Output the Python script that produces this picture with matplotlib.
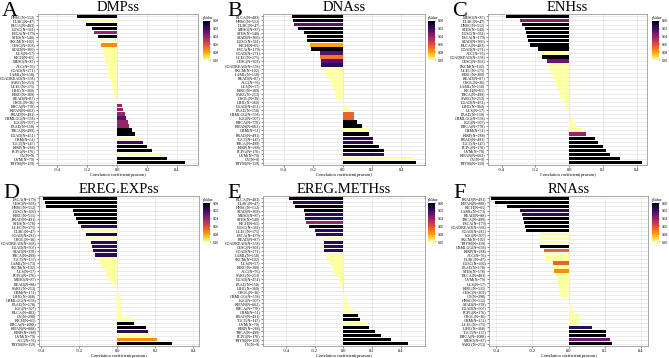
import matplotlib
matplotlib.use("Agg")
import matplotlib.pyplot as plt
import matplotlib.colors as mcolors
import numpy as np

# ---- data ----
dmp_labels = ["HNSC(N=512)", "DLBC(N=47)", "BLCA(N=403)", "LUSC(N=361)", "ESCA(N=179)", "STES(N=540)",
              "SKCM(N=102)", "CESC(N=303)", "STAD(N=360)", "UCS(N=57)", "KICH(N=65)", "MESO(N=87)",
              "ACC(N=76)", "COAD(N=271)", "LAML(N=150)", "COADREAD(N=358)", "SARC(N=253)", "UCEC(N=175)",
              "LIHC(N=360)", "KIRC(N=309)", "READ(N=87)", "CHOL(N=36)", "BRCA(N=778)", "KIPAN(N=662)",
              "PRAD(N=491)", "GBMLGG(N=558)", "LGG(N=507)", "PAAD(N=150)", "THCA(N=499)", "LUAD(N=451)",
              "GBM(N=51)", "TGCT(N=147)", "KIRP(N=288)", "PCPG(N=176)", "OV(N=9)", "UVM(N=79)", "THYM(N=119)"]
dmp_r = [-0.27, -0.23, -0.21, -0.17, -0.155, -0.13, -0.115, -0.11, -0.093, -0.09, -0.085, -0.08,
         -0.07, -0.065, -0.058, -0.053, -0.043, -0.035, -0.03, -0.02, -0.015, 0.005, 0.03, 0.04,
         0.05, 0.06, 0.07, 0.08, 0.10, 0.12, 0.14, 0.17, 0.20, 0.23, 0.30, 0.33, 0.45]
dmp_p = [0.0, 0.2, 0.0, 0.0, 0.04, 0.0, 0.2, 0.075, 0.2, 0.2, 0.2, 0.2,
         0.2, 0.2, 0.2, 0.2, 0.2, 0.2, 0.2, 0.2, 0.2, 0.2, 0.04, 0.04,
         0.04, 0.025, 0.04, 0.04, 0.0, 0.0, 0.2, 0.02, 0.0, 0.0, 0.2, 0.0, 0.0]

dna_labels = ["BLCA(N=403)", "HNSC(N=512)", "DLBC(N=47)", "MESO(N=87)", "STES(N=540)", "STAD(N=360)",
              "LUSC(N=361)", "KICH(N=65)", "ESCA(N=179)", "COAD(N=271)", "UCEC(N=175)", "CESC(N=303)",
              "COADREAD(N=358)", "SKCM(N=102)", "LAML(N=150)", "READ(N=87)", "ACC(N=76)", "UCS(N=57)",
              "KIRC(N=309)", "SARC(N=253)", "CHOL(N=36)", "LIHC(N=360)", "LUAD(N=451)", "PAAD(N=150)",
              "GBMLGG(N=558)", "LGG(N=507)", "BRCA(N=778)", "KIPAN(N=662)", "GBM(N=51)", "PRAD(N=491)",
              "TGCT(N=147)", "THCA(N=499)", "KIRP(N=288)", "PCPG(N=176)", "UVM(N=79)", "OV(N=9)", "THYM(N=119)"]
dna_r = [-0.34, -0.333, -0.327, -0.30, -0.26, -0.243, -0.24, -0.224, -0.213, -0.15, -0.15, -0.145,
         -0.145, -0.127, -0.116, -0.107, -0.088, -0.07, -0.061, -0.052, -0.045, 0.005, 0.02, 0.044,
         0.075, 0.08, 0.097, 0.13, 0.177, 0.177, 0.21, 0.21, 0.247, 0.28, 0.28, 0.48, 0.50]
dna_p = [0.0, 0.0, 0.025, 0.0, 0.0, 0.0, 0.0, 0.08, 0.0, 0.025, 0.07, 0.025,
         0.015, 0.2, 0.2, 0.2, 0.2, 0.2, 0.2, 0.2, 0.2, 0.2, 0.2, 0.2,
         0.065, 0.065, 0.0, 0.0, 0.2, 0.0, 0.015, 0.015, 0.0, 0.0, 0.015, 0.2, 0.0]

enh_labels = ["MESO(N=87)", "DLBC(N=47)", "HNSC(N=512)", "STES(N=540)", "LUSC(N=361)", "ESCA(N=179)",
              "STAD(N=360)", "BLCA(N=403)", "COAD(N=271)", "ACC(N=76)", "COADREAD(N=358)", "CESC(N=303)",
              "SKCM(N=102)", "UCEC(N=175)", "KIRC(N=309)", "READ(N=87)", "CHOL(N=36)", "LAML(N=150)",
              "KICH(N=65)", "THCA(N=499)", "SARC(N=253)", "LUAD(N=451)", "LIHC(N=360)", "UCS(N=57)",
              "PAAD(N=150)", "GBMLGG(N=558)", "LGG(N=507)", "BRCA(N=778)", "GBM(N=51)", "KIRP(N=288)",
              "PRAD(N=491)", "TGCT(N=147)", "PCPG(N=176)", "UVM(N=79)", "KIPAN(N=662)", "OV(N=9)", "THYM(N=119)"]
enh_r = [-0.372, -0.29, -0.278, -0.259, -0.253, -0.249, -0.245, -0.23, -0.184, -0.165, -0.16, -0.131,
         -0.128, -0.112, -0.102, -0.092, -0.086, -0.076, -0.069, -0.057, -0.053, -0.03, -0.02, -0.01,
         0.0, 0.01, 0.02, 0.04, 0.08, 0.10, 0.15, 0.17, 0.20, 0.22, 0.24, 0.30, 0.43]
enh_p = [0.0, 0.035, 0.0, 0.0, 0.0, 0.0, 0.0, 0.0, 0.0, 0.2, 0.0, 0.03,
         0.2, 0.2, 0.2, 0.2, 0.2, 0.2, 0.2, 0.2, 0.2, 0.2, 0.2, 0.2,
         0.2, 0.2, 0.2, 0.2, 0.2, 0.04, 0.0, 0.0, 0.0, 0.0, 0.0, 0.0, 0.0]

exp_labels = ["ESCA(N=179)", "CESC(N=303)", "HNSC(N=512)", "LUSC(N=492)", "KIRC(N=515)", "PRAD(N=491)",
              "STES(N=578)", "UCEC(N=175)", "DLBC(N=47)", "COAD(N=282)", "CHOL(N=36)", "COADREAD(N=368)",
              "LUAD(N=507)", "STAD(N=378)", "THCA(N=499)", "TGCT(N=137)", "LAML(N=173)", "SKCM(N=102)",
              "UCS(N=57)", "PCPG(N=176)", "MESO(N=87)", "READ(N=88)", "SARC(N=253)", "GBM(N=152)",
              "LIHC(N=368)", "GBMLGG(N=658)", "PAAD(N=178)", "LGG(N=507)", "BLCA(N=403)", "OV(N=298)",
              "KICH(N=65)", "BRCA(N=1088)", "KIPAN(N=888)", "KIRP(N=288)", "UVM(N=79)", "ACC(N=76)", "THYM(N=119)"]
exp_r = [-0.39, -0.38, -0.374, -0.233, -0.226, -0.216, -0.204, -0.19, -0.19, -0.165, -0.156, -0.138,
         -0.133, -0.125, -0.116, -0.095, -0.089, -0.08, -0.063, -0.058, -0.04, -0.028, -0.002, 0.007,
         0.013, 0.018, 0.022, 0.022, 0.025, 0.028, 0.082, 0.09, 0.15, 0.16, 0.174, 0.209, 0.29]
exp_p = [0.0, 0.0, 0.0, 0.0, 0.0, 0.0, 0.0, 0.015, 0.2, 0.01, 0.2, 0.015,
         0.015, 0.015, 0.015, 0.2, 0.2, 0.2, 0.2, 0.2, 0.2, 0.2, 0.2, 0.2,
         0.2, 0.2, 0.2, 0.2, 0.2, 0.2, 0.2, 0.0, 0.0, 0.015, 0.2, 0.075, 0.0]

meth_labels = ["BLCA(N=403)", "DLBC(N=47)", "HNSC(N=512)", "STAD(N=369)", "MESO(N=87)", "STES(N=540)",
               "KICH(N=65)", "LUSC(N=361)", "UCEC(N=175)", "ESCA(N=179)", "READ(N=87)", "COADREAD(N=358)",
               "CESC(N=303)", "COAD(N=271)", "LAML(N=150)", "SKCM(N=102)", "UCS(N=57)", "KIRC(N=309)",
               "ACC(N=76)", "SARC(N=253)", "LUAD(N=451)", "PAAD(N=150)", "LIHC(N=360)", "CHOL(N=36)",
               "GBMLGG(N=558)", "LGG(N=507)", "KIPAN(N=662)", "BRCA(N=778)", "GBM(N=51)", "PRAD(N=491)",
               "TGCT(N=147)", "UVM(N=79)", "KIRP(N=288)", "THCA(N=499)", "PCPG(N=176)", "THYM(N=119)", "OV(N=9)"]
meth_r = [-0.38, -0.35, -0.34, -0.277, -0.264, -0.264, -0.257, -0.24, -0.20, -0.187, -0.14, -0.135,
          -0.135, -0.135, -0.124, -0.112, -0.096, -0.082, -0.072, -0.054, -0.03, -0.02, -0.01, 0.0,
          0.01, 0.02, 0.03, 0.05, 0.08, 0.10, 0.12, 0.15, 0.18, 0.22, 0.26, 0.33, 0.45]
meth_p = [0.0, 0.015, 0.0, 0.0, 0.015, 0.015, 0.04, 0.0, 0.015, 0.015, 0.2, 0.015,
          0.015, 0.015, 0.2, 0.2, 0.2, 0.2, 0.2, 0.2, 0.2, 0.2, 0.2, 0.2,
          0.2, 0.2, 0.2, 0.2, 0.2, 0.0, 0.0, 0.2, 0.0, 0.0, 0.0, 0.0, 0.0]

rna_labels = ["PRAD(N=491)", "KIPAN(N=888)", "KICH(N=65)", "LAML(N=173)", "READ(N=88)", "THCA(N=499)",
              "ESCA(N=179)", "COADREAD(N=368)", "COAD(N=282)", "LGG(N=507)", "SKCM(N=102)", "THYM(N=119)",
              "GBMLGG(N=658)", "KIRP(N=288)", "ACC(N=76)", "DLBC(N=47)", "LUSC(N=492)", "PAAD(N=178)",
              "STES(N=578)", "BLCA(N=403)", "UVM(N=79)", "UCS(N=57)", "KIRC(N=515)", "CESC(N=303)",
              "OV(N=298)", "HNSC(N=512)", "STAD(N=378)", "LUAD(N=507)", "PCPG(N=176)", "CHOL(N=36)",
              "GBM(N=152)", "UCEC(N=175)", "LIHC(N=368)", "TGCT(N=137)", "BRCA(N=1088)", "MESO(N=87)", "SARC(N=253)"]
rna_r = [-0.43, -0.405, -0.34, -0.27, -0.26, -0.25, -0.248, -0.238, -0.233, -0.16, -0.16, -0.16,
         -0.16, -0.135, -0.13, -0.13, -0.085, -0.08, -0.08, -0.07, -0.065, -0.06, -0.055, -0.05,
         -0.045, -0.01, 0.005, 0.02, 0.03, 0.06, 0.06, 0.06, 0.13, 0.21, 0.21, 0.23, 0.24]
rna_p = [0.0, 0.0, 0.0, 0.015, 0.015, 0.0, 0.0, 0.0, 0.0, 0.2, 0.2, 0.2,
         0.0, 0.065, 0.2, 0.2, 0.065, 0.2, 0.075, 0.2, 0.2, 0.2, 0.2, 0.2,
         0.2, 0.2, 0.2, 0.2, 0.2, 0.2, 0.2, 0.2, 0.015, 0.0, 0.0, 0.03, 0.0]

titles = ["DMPss", "DNAss", "ENHss", "EREG.EXPss", "EREG.METHss", "RNAss"]
letters = ["A", "B", "C", "D", "E", "F"]
panels = [(dmp_labels, dmp_r, dmp_p), (dna_labels, dna_r, dna_p), (enh_labels, enh_r, enh_p),
          (exp_labels, exp_r, exp_p), (meth_labels, meth_r, meth_p), (rna_labels, rna_r, rna_p)]
xlims = [(-0.53, 0.54), (-0.54, 0.56), (-0.48, 0.46), (-0.41, 0.43), (-0.56, 0.57), (-0.44, 0.44)]

W, H = 669, 358
fig = plt.figure(figsize=(W / 100, H / 100), dpi=100)
plt.rcParams["font.family"] = "Liberation Serif"

cmap = plt.get_cmap("inferno")
norm = mcolors.Normalize(vmin=0, vmax=0.1, clip=True)

# axes boxes in pixels: left, top, right, bottom
boxes = [(38, 14, 198, 165), (263, 14, 425, 165), (488, 14, 647, 165),
         (39, 196, 199, 346), (263, 196, 425, 346), (489, 196, 648, 346)]
cb_x = [203, 428, 652, 203, 428, 652]

for i, (labels, r, p) in enumerate(panels):
    l, t, rr, b = boxes[i]
    ax = fig.add_axes([l / W, 1 - b / H, (rr - l) / W, (b - t) / H])
    y = np.arange(len(labels))
    ax.barh(y, r, height=0.82, color=cmap(norm(np.array(p))), zorder=3)
    ax.set_ylim(len(labels) - 0.4, -0.6)
    ax.set_xlim(*xlims[i])
    ax.set_yticks(y)
    ax.set_yticklabels(labels, fontsize=2.9)
    ax.set_xticks([-0.4, -0.2, 0.0, 0.2, 0.4])
    ax.set_xticklabels(["-0.4", "-0.2", "0.0", "0.2", "0.4"], fontsize=3.2)
    ax.tick_params(length=1.2, width=0.4, pad=0.8, color="#333333")
    ax.grid(True, color="#e4e4e4", linewidth=0.5, zorder=0)
    for s in ax.spines.values():
        s.set_color("#999999")
        s.set_linewidth(0.6)
    ax.set_xlabel("Correlation coefficient(pearson)", fontsize=3.2, labelpad=1)
    ax.set_title(titles[i], fontsize=10.5, pad=1)
    fig.text((l - 36) / W, 1 - (t - 12) / H, letters[i], fontsize=16, va="top", ha="left")

    # colorbar
    cax = fig.add_axes([cb_x[i] / W, 1 - (t + 46) / H, 7 / W, 39 / H])
    sm = plt.cm.ScalarMappable(norm=mcolors.Normalize(0, 0.1), cmap=cmap)
    cb = fig.colorbar(sm, cax=cax)
    cb.set_ticks([0.0, 0.02, 0.04, 0.06, 0.08, 0.10])
    cb.ax.set_yticklabels(["0.00", "0.02", "0.04", "0.06", "0.08", "0.10"], fontsize=2.6)
    cb.ax.invert_yaxis()
    cb.ax.tick_params(length=1, width=0.3, pad=0.8)
    cb.outline.set_visible(False)
    cb.ax.set_title("pValue", fontsize=2.8, pad=1.5, loc="left")

fig.savefig("out.png", dpi=100)
